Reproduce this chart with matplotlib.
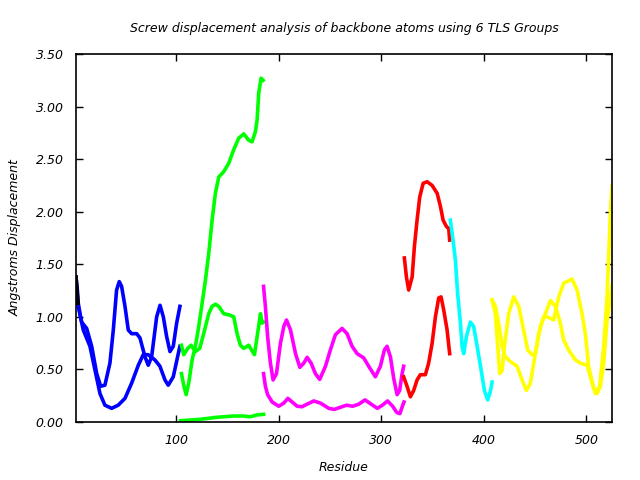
import matplotlib
matplotlib.use("Agg")
import matplotlib.pyplot as plt

# TLS group 0 (tiny stub at the very start)
black_res = [2, 3, 4]
black_val = [1.38, 1.25, 1.13]

# TLS group 1 (blue)
blue_a_res = [2, 3.3, 4.2, 5.9, 7.5, 12.4, 17.3, 22.2, 26.1, 30.2, 35.1, 38.4, 41.6, 44.2, 46.5,
              49.8, 53, 56.3, 61.2, 64.4, 69.3, 72.5, 75.8, 80.7, 84, 87.2, 90.5, 93.7, 96.9, 100.2, 103.4]
blue_a_val = [1.38, 1.26, 1.13, 1.03, 0.95, 0.89, 0.72, 0.46, 0.34, 0.35, 0.56, 0.875, 1.255, 1.335, 1.29,
              1.10, 0.875, 0.84, 0.84, 0.80, 0.62, 0.54, 0.62, 1.00, 1.11, 1.00, 0.81, 0.67, 0.72, 0.94, 1.10]
blue_b_res = [4.2, 9.1, 15.6, 20.5, 25.4, 30.2, 36.8, 43.2, 49.8, 56.3, 62.8, 67.6, 72.5, 79, 83.9,
              88.8, 92, 96.9, 101.8, 103.4]
blue_b_val = [1.10, 0.875, 0.72, 0.495, 0.27, 0.16, 0.13, 0.16, 0.225, 0.37, 0.54, 0.64, 0.64, 0.59, 0.53,
              0.40, 0.35, 0.43, 0.65, 0.72]

# TLS group 2 (green)
green_a_res = [104.9, 107.1, 109.5, 112, 115.3, 118.5, 121.8, 125.1, 128.3, 131.5, 134.8, 138, 141.3,
               146.1, 151, 155.9, 160.8, 165.7, 170.5, 173.8, 177, 178.7, 180.3, 182.6, 184.6]
green_a_val = [0.46, 0.35, 0.26, 0.37, 0.59, 0.72, 0.91, 1.13, 1.35, 1.60, 1.92, 2.175, 2.33,
               2.38, 2.46, 2.59, 2.70, 2.74, 2.68, 2.665, 2.76, 2.87, 3.13, 3.27, 3.25]
green_b_res = [104.9, 107.1, 111, 114.3, 118.5, 122.7, 126.6, 131.5, 134.8, 138, 141.3, 146.1, 151,
               155.9, 159.2, 162.4, 165.7, 170.5, 176.1, 178.7, 182, 183.6, 185]
green_b_val = [0.73, 0.64, 0.70, 0.73, 0.67, 0.70, 0.84, 1.03, 1.10, 1.12, 1.10, 1.03, 1.02,
               1.00, 0.84, 0.73, 0.70, 0.73, 0.64, 0.81, 1.03, 0.94, 0.95]
green_c_res = [103.9, 123.4, 139.7, 156, 165, 172, 178.5, 185]
green_c_val = [0.012, 0.026, 0.045, 0.057, 0.057, 0.05, 0.067, 0.073]

# TLS group 3 (magenta)
mag_a_res = [185, 186.8, 189, 191.7, 194.3, 197.6, 201.5, 204.8, 207.4, 211.3, 216.2, 220.4, 224.3,
             227.5, 231.4, 235.6, 239.8, 245.4, 250.2, 255.1, 261.6, 266.5, 271.4, 276.3, 282.7,
             287.6, 294.1, 299, 302.9, 305.5, 308.8, 312, 315.3, 317.8, 320.2, 321.7]
mag_a_val = [1.29, 1.10, 0.81, 0.56, 0.40, 0.46, 0.75, 0.91, 0.97, 0.875, 0.65, 0.52, 0.56,
             0.615, 0.56, 0.46, 0.405, 0.53, 0.685, 0.83, 0.89, 0.84, 0.72, 0.65, 0.61,
             0.53, 0.43, 0.53, 0.685, 0.72, 0.62, 0.415, 0.26, 0.30, 0.46, 0.53]
mag_b_res = [185, 186.8, 189, 193.4, 199.8, 204.8, 208.7, 212.9, 217.8, 222.6, 227.5, 234, 240.5,
             248.6, 254, 260, 266, 272, 278, 284, 290, 296, 301, 306, 311, 315, 318, 320.5, 322]
mag_b_val = [0.46, 0.34, 0.26, 0.19, 0.15, 0.18, 0.225, 0.19, 0.15, 0.145, 0.17, 0.20, 0.18,
             0.13, 0.12, 0.14, 0.16, 0.15, 0.17, 0.21, 0.17, 0.13, 0.16, 0.20, 0.15, 0.09, 0.08, 0.15, 0.19]

# TLS group 4 (red)
red_a_res = [322.4, 324.4, 326.6, 330, 332.2, 334.8, 337.4, 340.7, 344.6, 349.5, 354.4, 357.6,
             360.2, 363.4, 365.7, 366.6]
red_a_val = [1.56, 1.38, 1.255, 1.38, 1.67, 1.92, 2.14, 2.27, 2.285, 2.25, 2.175, 2.05,
             1.92, 1.86, 1.84, 1.73]
red_b_res = [321.7, 325, 328.3, 331.5, 334.8, 338, 342.9, 346.1, 349.5, 352.7, 355.9, 358.2,
             360.8, 364.1, 366.6]
red_b_val = [0.43, 0.34, 0.24, 0.30, 0.40, 0.45, 0.45, 0.56, 0.75, 1.00, 1.18, 1.19,
             1.065, 0.875, 0.65]

# TLS group 5 (cyan)
cyan_res = [367.3, 369.9, 372.2, 374.4, 377.1, 378.7, 380.3, 382.9, 386.8, 390, 393.4, 397.3,
            400.5, 403.7, 406.3, 408]
cyan_val = [1.92, 1.73, 1.54, 1.22, 0.94, 0.72, 0.65, 0.81, 0.95, 0.91, 0.72, 0.495,
            0.30, 0.21, 0.29, 0.38]

# TLS group 6 (yellow)
yel_a_res = [408, 411.2, 414.4, 417.8, 421, 425.9, 432.4, 437.3, 441.5, 445.4, 450.2, 455.1, 460,
             464.9, 469.8, 474.6, 477.9, 482.7, 489.3, 494.1, 500.7, 505.6, 508.8, 513, 516.9,
             520.2, 523.4, 525]
yel_a_val = [1.16, 1.10, 0.94, 0.72, 0.62, 0.575, 0.53, 0.40, 0.30, 0.37, 0.65, 0.91, 1.03,
             1.155, 1.10, 0.94, 0.78, 0.685, 0.59, 0.56, 0.54, 0.37, 0.27, 0.34, 0.72,
             1.19, 1.98, 2.25]
yel_b_res = [408, 411.2, 413.5, 415.4, 417.8, 420, 424.2, 429.1, 434, 438.8, 442.7, 447, 450.2,
             453.5, 458.3, 461.7, 468.1, 473, 477.9, 486, 490.9, 495.8, 499, 502.2, 507.1, 510.4,
             513.7, 516.9, 520.2, 523.4, 525]
yel_b_val = [1.16, 1.03, 0.72, 0.46, 0.49, 0.72, 1.03, 1.19, 1.10, 0.875, 0.685, 0.64, 0.65,
             0.84, 1.00, 1.00, 0.97, 1.19, 1.32, 1.36, 1.255, 1.03, 0.84, 0.53, 0.32, 0.27,
             0.34, 0.56, 0.97, 1.16, 1.30]

fig = plt.figure(figsize=(6.4, 4.8), dpi=100)
ax = fig.add_axes([76 / 640, 1 - 422 / 480, 536 / 640, 368 / 480])

lw = 2.6
ax.plot(blue_a_res, blue_a_val, color="#0000ff", lw=lw)
ax.plot(blue_b_res, blue_b_val, color="#0000ff", lw=lw)
ax.plot(black_res, black_val, color="black", lw=lw)
ax.plot(green_a_res, green_a_val, color="#00ff00", lw=lw)
ax.plot(green_b_res, green_b_val, color="#00ff00", lw=lw)
ax.plot(green_c_res, green_c_val, color="#00ff00", lw=lw)
ax.plot(mag_a_res, mag_a_val, color="#ff00ff", lw=lw)
ax.plot(mag_b_res, mag_b_val, color="#ff00ff", lw=lw)
ax.plot(red_a_res, red_a_val, color="#ff0000", lw=lw)
ax.plot(red_b_res, red_b_val, color="#ff0000", lw=lw)
ax.plot(cyan_res, cyan_val, color="#00ffff", lw=lw)
ax.plot(yel_a_res, yel_a_val, color="#ffff00", lw=lw)
ax.plot(yel_b_res, yel_b_val, color="#ffff00", lw=lw)

ax.set_xlim(2, 525)
ax.set_ylim(0, 3.5)
ax.set_xticks([100, 200, 300, 400, 500])
ax.set_yticks([0, 0.5, 1.0, 1.5, 2.0, 2.5, 3.0, 3.5])
ax.set_yticklabels(["%.2f" % t for t in ax.get_yticks()])
ax.tick_params(direction="in", length=5, width=1, top=True, right=True,
               labelsize=9, pad=9)
for lab in ax.get_xticklabels() + ax.get_yticklabels():
    lab.set_fontstyle("italic")
for s in ax.spines.values():
    s.set_linewidth(1.2)

ax.set_title("Screw displacement analysis of backbone atoms using 6 TLS Groups",
             fontsize=9, style="italic", pad=16)
ax.set_xlabel("Residue", fontsize=9, style="italic", labelpad=10)
ax.set_ylabel("Angstroms Displacement", fontsize=9, style="italic", labelpad=10)

fig.savefig("out.png", dpi=100)
